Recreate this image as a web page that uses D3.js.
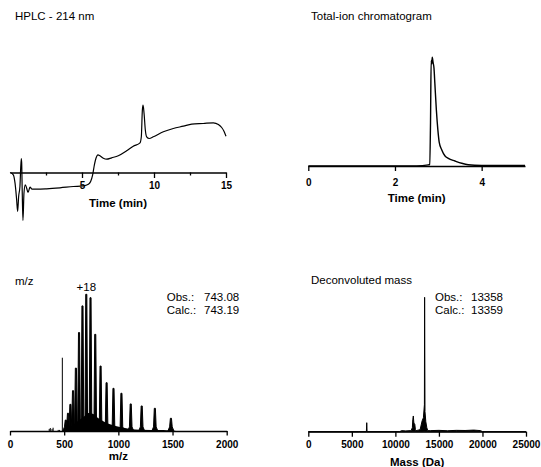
<!DOCTYPE html>
<html>
<head>
<meta charset="utf-8">
<script src="https://cdn.jsdelivr.net/npm/d3@7"></script>
<style>
  body { margin: 0; background: #fff; }
  svg { display: block; font-family: Arial, "Liberation Sans", sans-serif; }
</style>
</head>
<body>
<div class="chart"></div>
<script>
// HPLC trace (min, mAU)
const hplcTime = [0, 0.23, 0.35, 0.46, 0.53, 0.6, 0.69, 0.78, 0.81, 0.85, 0.9, 0.97, 1.06, 1.16, 1.25, 1.39, 1.53, 1.85, 2.55, 3.47, 4.4, 5.09, 5.44, 5.6, 5.74, 5.86, 5.97, 6.11, 6.25, 6.48, 6.71, 7.06, 7.52, 8.1, 8.56, 9.03, 9.12, 9.19, 9.24, 9.31, 9.4, 9.49, 9.67, 9.95, 10.65, 11.34, 12.04, 12.62, 13.42, 14.12, 14.47, 14.7, 14.86, 15]
const hplcSignal = [0, -2.3, -10.7, -27, -39, -24, -14, 14, 10, -20, -48, -20.7, -12.3, -15.7, -20, -14.7, -16.7, -16.7, -16.3, -15.3, -14, -13.3, -11.7, -9, -2.3, 7.7, 14.3, 17.7, 16.7, 14.3, 13.3, 14.7, 16.7, 21.7, 26.3, 29.7, 35.7, 62, 67.3, 59, 42.3, 35.7, 34, 35.7, 40.7, 44, 46.3, 48.3, 49, 49.7, 48, 45, 41.3, 36.3]
const hplcTicks = [2.5, 5, 7.5, 10, 12.5, 15]

// total-ion chromatogram (min, % of max)
const ticTime = [0, 2.5, 2.77, 2.8, 2.82, 2.835, 2.85, 2.86, 2.88, 2.9, 2.92, 2.955, 2.99, 3.02, 3.08, 3.155, 3.23, 3.385, 3.54, 3.69, 4.0, 4.5, 5.0]
const ticSignal = [0, 0, 1, 1.5, 40, 97, 94, 100, 95, 90, 76, 51.5, 33, 22, 14.7, 9.2, 7, 4.6, 2.5, 1.2, 0.6, 0.5, 0.4]
const ticTicks = [0, 2, 4]

// ESI spectrum: charge-state peaks (m/z, % of max)
const chargeMz = [514.8, 535.3, 557.6, 581.8, 608.2, 637.1, 668.9, 704.1, 743.1, 786.8, 835.9, 891.5, 955.1, 1028.5, 1114.2, 1215.4, 1336.8, 1485.2]
const chargeInt = [8, 13, 19.5, 29.5, 46, 72, 91.5, 100, 97.5, 70.7, 47.5, 35.3, 31.2, 27.6, 19.8, 18.3, 16.6, 9.3]
// unresolved background under the envelope
const humpMz = [500, 508, 538, 585, 615, 677, 723, 769, 800, 846, 892, 954, 1015, 1108, 1200, 1415, 1539]
const humpInt = [0, 0.5, 2.9, 4.4, 6.6, 10.2, 13.2, 12.4, 10.2, 7.8, 5.9, 4.2, 2.9, 1.5, 1.0, 0.7, 0]
// small isolated signals
const minorMz = [362, 372, 388, 398, 445, 458, 483]
const minorInt = [1.5, 2.2, 1.5, 2.4, 0.8, 0.8, 53.6]
const mzTicks = [0, 500, 1000, 1500, 2000]

// deconvoluted spectrum (Da, % of max)
const massDa = [0, 5800, 5850, 5900, 6670, 6712, 6750, 10500, 10700, 11200, 11700, 11800, 11950, 12000, 12060, 12115, 12180, 12230, 12300, 12380, 12840, 13069, 13218, 13333, 13358, 13400, 13494, 13609, 13720, 14000, 15000, 16000, 17000, 18000, 19000, 19800, 20000, 25000]
const massInt = [0, 0, 0.5, 0, 0, 6.7, 0, 0, 0.8, 0.6, 0.8, 0.8, 3, 9, 11.7, 7, 6, 5.5, 1.5, 0.8, 1.5, 8, 10.4, 20, 100, 15, 7.5, 3, 0.8, 0.8, 1, 0.7, 1, 0.9, 1.2, 0.8, 0, 0]
const massTicks = [0, 5000, 10000, 15000, 20000, 25000]

const svg = d3.select(".chart").append("svg")
  .attr("width", 541)
  .attr("height", 467)

// 画横坐标轴
function drawAxis(y, scale, ticks, labelOffset, title, titleOffset, tickLen, fmt) {
  const g = svg.append("g")
    .attr("transform", `translate(0,${y})`)
    .call(d3.axisBottom(scale).tickValues(ticks).tickSize(tickLen).tickSizeOuter(0).tickFormat(fmt || (d => d)))
  g.select(".domain").attr("stroke", "#000").attr("stroke-width", 1.3)
  g.selectAll(".tick line").attr("stroke", "#000").attr("stroke-width", 1.3)
  g.selectAll(".tick text")
    .attr("dy", null)
    .attr("y", labelOffset)
    .attr("fill", "#000")
    .attr("font-family", "Arial, 'Liberation Sans', sans-serif")
    .attr("font-size", 10)
    .attr("font-weight", "bold")
  const [r0, r1] = scale.range()
  svg.append("text")
    .attr("x", (r0 + r1) / 2)
    .attr("y", y + titleOffset)
    .attr("text-anchor", "middle")
    .attr("font-size", 11.5)
    .attr("font-weight", "bold")
    .text(title)
  return g
}

function panelTitle(x, y, text) {
  svg.append("text").attr("x", x).attr("y", y).attr("font-size", 11.5).text(text)
}

// ---- HPLC ----
const xHplc = d3.scaleLinear().domain([0, 15]).range([10, 226])
const yHplc = d3.scaleLinear().domain([-50, 70]).range([222.5, 102.5])
panelTitle(15, 20, "HPLC - 214 nm")
const hAxis = drawAxis(172.5, xHplc, hplcTicks, 16.5, "Time (min)", 34.5, 5.5,
  d => Number.isInteger(d) ? d : "")
hAxis.selectAll(".tick").filter(d => !Number.isInteger(d)).select("line").attr("y2", 3)
svg.append("path")
  .datum(hplcTime.map((t, i) => [t, hplcSignal[i]]))
  .attr("fill", "none")
  .attr("stroke", "#000")
  .attr("stroke-width", 1.2)
  .attr("d", d3.line().x(d => xHplc(d[0])).y(d => yHplc(d[1])).curve(d3.curveMonotoneX))

// ---- TIC ----
const xTic = d3.scaleLinear().domain([0, 5]).range([308.3, 525])
const yTic = d3.scaleLinear().domain([0, 100]).range([166, 57.3])
panelTitle(311, 20, "Total-ion chromatogram")
drawAxis(166, xTic, ticTicks, 20, "Time (min)", 35.5, 5)
svg.append("path")
  .datum(ticTime.map((t, i) => [t, ticSignal[i]]))
  .attr("fill", "none")
  .attr("stroke", "#000")
  .attr("stroke-width", 1.4)
  .attr("d", d3.line().x(d => xTic(d[0])).y(d => yTic(d[1])).curve(d3.curveMonotoneX))

// ---- m/z ----
const xMz = d3.scaleLinear().domain([0, 2000]).range([10, 226.7])
const yMz = d3.scaleLinear().domain([0, 100]).range([431, 294.3])
panelTitle(15, 285, "m/z")
const mzArea = d3.area().x(d => xMz(d[0])).y0(yMz(0)).y1(d => yMz(d[1]))
svg.append("path")
  .datum(humpMz.map((m, i) => [m, humpInt[i]]))
  .attr("fill", "#000")
  .attr("d", mzArea.curve(d3.curveMonotoneX))
const flatArea = d3.area().x(d => xMz(d[0])).y0(yMz(0)).y1(d => yMz(d[1]))
chargeMz.forEach((m, i) => {
  const h = chargeInt[i]
  const shape = [[m - 28, 0], [m - 12, 3], [m - 5, h], [m + 5, h], [m + 12, 3], [m + 28, 0]]
  svg.append("path")
    .datum(shape)
    .attr("fill", "#000")
    .attr("stroke", "#000")
    .attr("stroke-width", 1)
    .attr("d", flatArea)
})
svg.selectAll(".minor")
  .data(minorMz.map((m, i) => [m, minorInt[i]]))
  .join("line")
  .attr("x1", d => xMz(d[0])).attr("x2", d => xMz(d[0]))
  .attr("y1", yMz(0)).attr("y2", d => yMz(d[1]))
  .attr("stroke", "#000")
  .attr("stroke-width", 1)
drawAxis(431, xMz, mzTicks, 17, "m/z", 29, 4.5)
const topIdx = chargeInt.indexOf(d3.max(chargeInt))
svg.append("text")
  .attr("x", xMz(chargeMz[topIdx]))
  .attr("y", yMz(chargeInt[topIdx]) - 3)
  .attr("text-anchor", "middle")
  .attr("font-size", 11.5)
  .text("+18")
svg.append("text").attr("x", 166.7).attr("y", 301).attr("font-size", 11.5).text("Obs.:")
svg.append("text").attr("x", 204).attr("y", 301).attr("font-size", 11.5).text("743.08")
svg.append("text").attr("x", 166.7).attr("y", 314).attr("font-size", 11.5).text("Calc.:")
svg.append("text").attr("x", 204).attr("y", 314).attr("font-size", 11.5).text("743.19")

// ---- deconvoluted mass ----
const xMass = d3.scaleLinear().domain([0, 25000]).range([308.3, 526])
const yMass = d3.scaleLinear().domain([0, 100]).range([431.7, 297.3])
panelTitle(311, 284, "Deconvoluted mass")
svg.append("path")
  .datum(massDa.map((m, i) => [m, massInt[i]]))
  .attr("fill", "#000")
  .attr("stroke", "#000")
  .attr("stroke-width", 1)
  .attr("d", d3.area().x(d => xMass(d[0])).y0(yMass(0)).y1(d => yMass(d[1])))
drawAxis(431.7, xMass, massTicks, 16.3, "Mass (Da)", 34, 5)
svg.append("text").attr("x", 435).attr("y", 301).attr("font-size", 11.5).text("Obs.:")
svg.append("text").attr("x", 471).attr("y", 301).attr("font-size", 11.5).text("13358")
svg.append("text").attr("x", 435).attr("y", 314).attr("font-size", 11.5).text("Calc.:")
svg.append("text").attr("x", 471).attr("y", 314).attr("font-size", 11.5).text("13359")
</script>
</body>
</html>
